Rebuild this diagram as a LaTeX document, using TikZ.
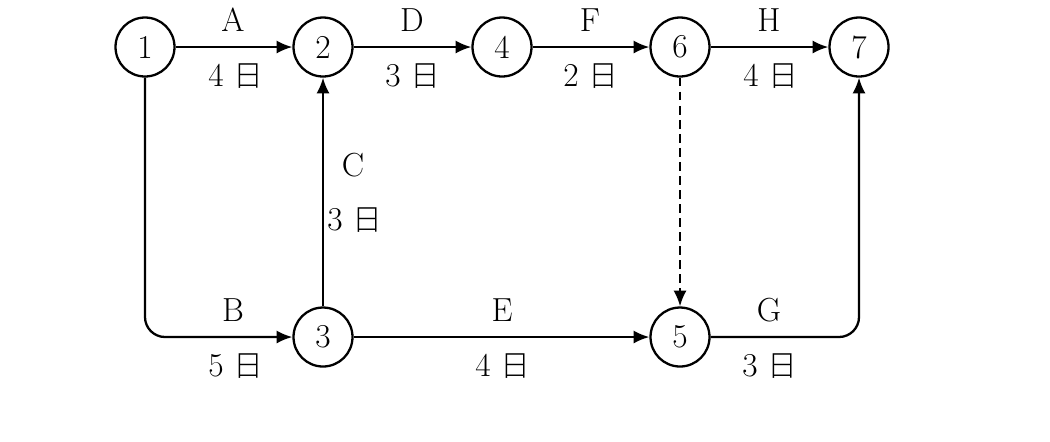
\documentclass[tikz,border=0pt]{standalone}
\usepackage{fontspec}
\newfontfamily\cjk{Noto Sans CJK SC}[UprightFont=* Light]
\usetikzlibrary{arrows.meta}

\begin{document}
\begin{tikzpicture}[x=0.02cm, y=-0.02cm, line width=1.3pt,
  every node/.style={font=\fontsize{19}{23}\selectfont},
  event/.style={draw, circle, minimum size=1.18cm, inner sep=0pt},
  task/.style={-{Latex[length=9pt, width=7.5pt]}, rounded corners=0.4cm}]

%frame of the picture
\useasboundingbox (0,0) rectangle (1050,441);

%duration in days
\newcommand{\days}[1]{#1\ {\cjk\fontsize{17}{20}\selectfont 日}}

%%events
\node[event] (e1) at (145,47) {1};
\node[event] (e2) at (323,47) {2};
\node[event] (e4) at (502,47) {4};
\node[event] (e6) at (680,47) {6};
\node[event] (e7) at (859,47) {7};
\node[event] (e3) at (323,337) {3};
\node[event] (e5) at (680,337) {5};

%%tasks
\draw[task] (e1) -- (e2);
\draw[task] (e2) -- (e4);
\draw[task] (e4) -- (e6);
\draw[task] (e6) -- (e7);
\draw[task] (e1) |- (e3);
\draw[task] (e3) -- (e2);
\draw[task] (e3) -- (e5);
\draw[task] (e5) -| (e7);
\draw[task, dashed, dash pattern=on 5pt off 3pt] (e6) -- (e5);

%%labels
\node (lA) at (233,20) {A};   \node (dA) at (236,76) {\days{4}};
\node (lD) at (412,20) {D};   \node (dD) at (413,76) {\days{3}};
\node (lF) at (590,20) {F};   \node (dF) at (591,76) {\days{2}};
\node (lH) at (769,20) {H};   \node (dH) at (771,76) {\days{4}};
\node (lC) at (353,165) {C};  \node (dC) at (355,220) {\days{3}};
\node (lB) at (233,310) {B};  \node (dB) at (236,366) {\days{5}};
\node (lE) at (502,310) {E};  \node (dE) at (503,366) {\days{4}};
\node (lG) at (769,310) {G};  \node (dG) at (770,366) {\days{3}};

\end{tikzpicture}
\end{document}
